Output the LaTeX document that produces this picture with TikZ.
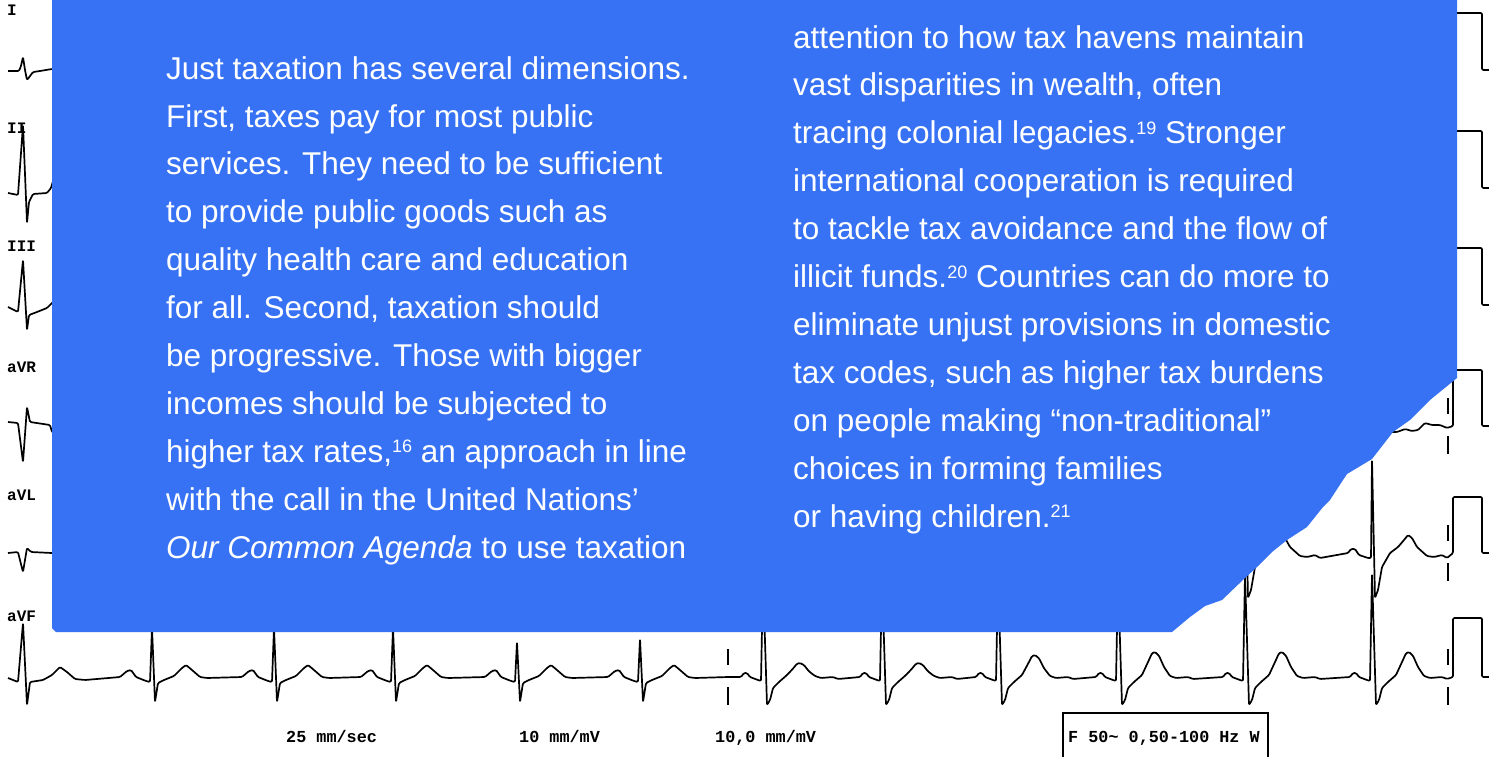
\documentclass[tikz,border=0pt]{standalone}
\usepackage{fontspec}
\setmainfont{Liberation Sans}
\newfontfamily\ecgmono{Liberation Mono}
\definecolor{boxblue}{RGB}{55,114,245}
\newcommand\fnote[1]{\raisebox{9.5pt}{\fontsize{18}{18}\selectfont #1}}
\begin{document}
\begin{tikzpicture}[x=1pt,y=-1pt,
  ecg/.style={line width=1.7pt, line join=round, rounded corners=1.2pt, black},
  dashseg/.style={line width=1.7pt, black},
  leadlbl/.style={font=\ecgmono\bfseries\fontsize{16}{16}\selectfont, anchor=base west, inner sep=0pt},
  calib/.style={font=\ecgmono\bfseries\fontsize{16.8}{16.8}\selectfont, anchor=base west, inner sep=0pt},
  body/.style={font=\fontsize{31.5}{31.5}\selectfont, text=white, anchor=base west, inner sep=0pt}]
\useasboundingbox (0,0) rectangle (1489,756);
\clip (0,0) rectangle (1489,756);
\fill[white] (0,0) rectangle (1489,756);

% ---- lead labels ----
\node[leadlbl] (labI)   at (7,15)  {I};
\node[leadlbl] (labII)  at (7,133) {II};
\node[leadlbl] (labIII) at (7,251) {III};
\node[leadlbl] (labaVR) at (7,372) {aVR};
\node[leadlbl] (labaVL) at (7,500) {aVL};
\node[leadlbl] (labaVF) at (7,621) {aVF};

% ---- left strips of traces ----
\draw[ecg] (8,71) -- (19,71) -- (21,66) -- (23,57) -- (25,70) -- (27,80) -- (30,76) -- (33,72) -- (40,71) -- (52,69) -- (60,69);
\draw[ecg] (8,193) -- (18,195) -- (23,125) -- (27,223) -- (29,202) -- (33,194) -- (47,193) -- (51,188) -- (53,181) -- (58,176);
\draw[ecg] (8,307) -- (18,312) -- (23,260) -- (27,330) -- (29,315) -- (37,312) -- (47,308) -- (52,303) -- (58,298);
\draw[ecg] (8,422) -- (18,423) -- (23,462) -- (27,407) -- (30,422) -- (50,425) -- (52,432) -- (58,436);
\draw[ecg] (8,553) -- (18,552) -- (23,572) -- (27,548) -- (31,552) -- (52,553) -- (60,553);

% ---- aVF full trace ----
\draw[ecg] (8,678) -- (18,682) -- (23,623) -- (27,705) -- (30,682) -- (43,680) -- (52,675) -- (60,667) -- (67,672) -- (75,679) -- (85,680)
  \foreach \r/\h in {152/52,274/52,393/52,517/38,640/41}{
    -- (\r-32,677) -- (\r-25,671) -- (\r-21,670) -- (\r-16,677) -- (\r-6,681) -- (\r-2,682) -- (\r,680-\h) -- (\r+3,702) -- (\r+6,683) -- (\r+12,680) -- (\r+22,676) -- (\r+30,668) -- (\r+34,665) -- (\r+40,670) -- (\r+48,677) -- (\r+55,678)
  }
  -- (728,677)
  \foreach \r/\h/\t in {763/100/14,882/100/14,998/100/22,1118/100/25,1245/102/25,1372/103/25}{
    -- (\r-22,677) -- (\r-19,673) -- (\r-16,673) -- (\r-13,677) -- (\r-5,680) -- (\r-2,681) -- (\r,677-\h) -- (\r+4,705) -- (\r+7,700) -- (\r+10,688) -- (\r+16,682) -- (\r+24,675) -- (\r+30,677-0.6*\t) -- (\r+34,677-0.95*\t) -- (\r+37,677-\t) -- (\r+41,677-0.85*\t) -- (\r+46,677-0.4*\t) -- (\r+52,676) -- (\r+58,678) -- (\r+70,677) -- (\r+75,679)
  }
  -- (1453,677) -- (1453,618) -- (1482,618) -- (1482,677) -- (1489,677);

% ---- aVL right part ----
\draw[ecg] (1180,553)
  \foreach \r in {1245,1372}{
    -- (\r-24,553) -- (\r-21,549) -- (\r-17,549) -- (\r-13,555) -- (\r-4,558) -- (\r-1,558) -- (\r,460) -- (\r+3,598) -- (\r+6,590) -- (\r+10,567) -- (\r+18,553) -- (\r+26,547) -- (\r+32,540) -- (\r+36,535) -- (\r+40,538) -- (\r+45,547) -- (\r+55,556) -- (\r+62,557) -- (\r+70,555) -- (\r+75,558)
  }
  -- (1453,553) -- (1453,497) -- (1482,497) -- (1482,553) -- (1489,553);

% ---- aVR right part ----
\draw[ecg] (1370,432) -- (1397,432) -- (1405,429) -- (1412,431) -- (1418,430) -- (1425,423) -- (1432,425) -- (1440,425) -- (1447,428) -- (1453,426) -- (1453,370) -- (1482,370) -- (1482,426) -- (1489,426);

% ---- calibration pulses rows I-III ----
\draw[ecg] (1440,70) -- (1453,70) -- (1453,13) -- (1482,13) -- (1482,70) -- (1489,70);
\draw[ecg] (1440,188) -- (1453,188) -- (1453,131) -- (1482,131) -- (1482,188) -- (1489,188);
\draw[ecg] (1440,305) -- (1453,305) -- (1453,248) -- (1482,248) -- (1482,305) -- (1489,305);

% ---- dashed markers ----
\foreach \b in {426,553,677}{
  \draw[dashseg] (1448,\b-28) -- (1448,\b-12) (1448,\b+10) -- (1448,\b+28);
}
\draw[dashseg] (728,649) -- (728,665) (728,687) -- (728,705);

% ---- bottom labels ----
\node[calib] (speed) at (286,742) {25 mm/sec};
\node[calib] (gain1) at (519,742) {10 mm/mV};
\node[calib] (gain2) at (715,742) {10,0 mm/mV};
\node[calib] (filt)  at (1068,742) {F 50\char"007E{} 0,50-100 Hz W};
\draw[line width=1.7pt] (1063,760) -- (1063,713) -- (1268,713) -- (1268,760);

% ---- blue panel ----
\fill[boxblue] (52,-2) -- (1457,-2) -- (1457,378) -- (1430,400) -- (1410,420) -- (1393,432) -- (1372,459) -- (1347,474) -- (1343,480) -- (1330,500) -- (1323,507) -- (1307,527) -- (1287,540) -- (1272,552) -- (1257,567) -- (1245,578) -- (1222,600) -- (1205,606) -- (1190,617) -- (1172,632) -- (56,632) -- (52,628) -- cycle;

% ---- left column ----
\node[body] (l1)  at (166,79)    {Just taxation has several dimensions.};
\node[body] (l2)  at (166,127)   {First, taxes pay for most public};
\node[body] (l3)  at (166,174.8) {services. They need to be sufficient};
\node[body] (l4)  at (166,222.7) {to provide public goods such as};
\node[body] (l5)  at (166,270.6) {quality health care and education};
\node[body] (l6)  at (166,318.5) {for all. Second, taxation should};
\node[body] (l7)  at (166,366.4) {be progressive. Those with bigger};
\node[body] (l8)  at (166,414.3) {incomes should be subjected to};
\node[body] (l9)  at (166,462.2) {higher tax rates,\fnote{16} an approach in line};
\node[body] (l10) at (166,510.1) {with the call in the United Nations’};
\node[body] (l11) at (166,558)   {\textit{Our Common Agenda} to use taxation};

% ---- right column ----
\node[body] (r1)  at (793,48)    {attention to how tax havens maintain};
\node[body] (r2)  at (793,95.9)  {vast disparities in wealth, often};
\node[body] (r3)  at (793,143.8) {tracing colonial legacies.\fnote{19} Stronger};
\node[body] (r4)  at (793,191.7) {international cooperation is required};
\node[body] (r5)  at (793,239.6) {to tackle tax avoidance and the flow of};
\node[body] (r6)  at (793,287.5) {illicit funds.\fnote{20} Countries can do more to};
\node[body] (r7)  at (793,335.4) {eliminate unjust provisions in domestic};
\node[body] (r8)  at (793,383.3) {tax codes, such as higher tax burdens};
\node[body] (r9)  at (793,431.2) {on people making “non-traditional”};
\node[body] (r10) at (793,479.1) {choices in forming families};
\node[body] (r11) at (793,527)   {or having children.\fnote{21}};
\end{tikzpicture}
\end{document}
